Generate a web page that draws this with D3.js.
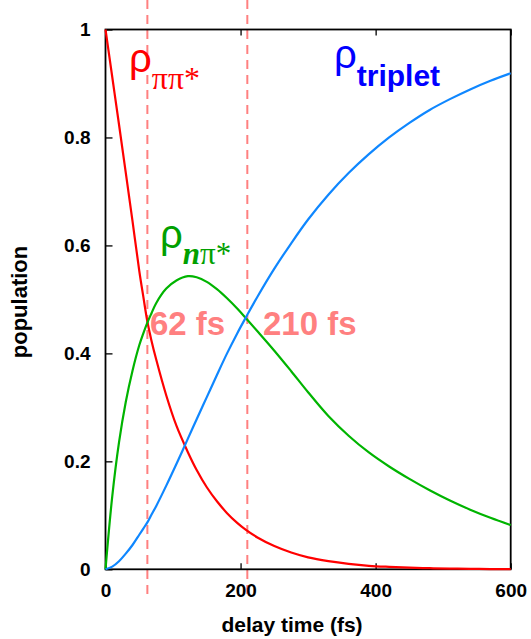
<!DOCTYPE html>
<html>
<head>
<meta charset="utf-8">
<script src="https://cdn.jsdelivr.net/npm/d3@7"></script>
<style>
  html, body { margin: 0; padding: 0; background: #fff; }
  svg { display: block; }
  text { font-family: "Liberation Sans", Arial, Helvetica, sans-serif; }
</style>
</head>
<body>
<script>
// ---- data ----
const times = [0, 10, 20, 30, 40, 50, 56, 62, 68, 75, 90, 105, 122, 135, 150, 165, 180, 195, 208, 225, 250, 275, 300, 330, 360, 390, 420, 450, 480, 510, 540, 570, 600];
const rhoPiPi = [1.000, 0.912, 0.824, 0.735, 0.645, 0.553, 0.505, 0.459, 0.424, 0.389, 0.322, 0.266, 0.217, 0.184, 0.152, 0.126, 0.104, 0.086, 0.073, 0.059, 0.043, 0.031, 0.022, 0.015, 0.010, 0.0065, 0.0045, 0.003, 0.002, 0.0013, 0.0008, 0.0005, 0.0003];
const rhoNPi = [0.000, 0.135, 0.235, 0.310, 0.368, 0.415, 0.437, 0.457, 0.474, 0.493, 0.520, 0.535, 0.543, 0.541, 0.5325, 0.519, 0.502, 0.483, 0.465, 0.441, 0.405, 0.367, 0.328, 0.284, 0.2475, 0.2165, 0.1905, 0.1675, 0.1465, 0.1275, 0.1105, 0.0955, 0.082];
const rhoTriplet = [0.000, 0.005, 0.015, 0.029, 0.045, 0.064, 0.0755, 0.087, 0.101, 0.117, 0.155, 0.195, 0.242, 0.278, 0.319, 0.360, 0.400, 0.437, 0.467, 0.505, 0.557, 0.604, 0.648, 0.694, 0.734, 0.769, 0.800, 0.827, 0.851, 0.871, 0.889, 0.905, 0.919];
const markers = [62, 210];
const markerLabels = ["62 fs", "210 fs"];
const xTicks = [0, 200, 400, 600];
const yTicks = [0, 0.2, 0.4, 0.6, 0.8, 1];

const W = 531, H = 639;
const svg = d3.select("body").append("svg").attr("width", W).attr("height", H);
svg.append("rect").attr("width", W).attr("height", H).attr("fill", "#fff");

const x = d3.scaleLinear().domain([0, 600]).range([105.5, 510.7]);
const y = d3.scaleLinear().domain([0, 1]).range([569.3, 29.5]);

// dashed marker lines
svg.selectAll("line.marker").data(markers).enter().append("line")
  .attr("class", "marker")
  .attr("x1", d => x(d)).attr("x2", d => x(d))
  .attr("y1", 0).attr("y2", 595)
  .attr("stroke", "#ff8080").attr("stroke-width", 2)
  .attr("stroke-dasharray", "9,6");

// frame
svg.append("rect")
  .attr("x", x(0)).attr("y", y(1))
  .attr("width", x(600) - x(0)).attr("height", y(0) - y(1))
  .attr("fill", "none").attr("stroke", "#000").attr("stroke-width", 1.8);

// axes
const fmt = d => (d === 0 || d === 1) ? String(d) : d3.format(".1f")(d);
const yAxis = svg.append("g").attr("transform", `translate(${x(0)},0)`)
  .call(d3.axisLeft(y).tickValues(yTicks).tickSize(-7).tickPadding(15).tickFormat(fmt));
const xAxis = svg.append("g").attr("transform", `translate(0,${y(0)})`)
  .call(d3.axisBottom(x).tickValues(xTicks).tickSize(-6).tickPadding(14).tickFormat(d3.format("d")));
const xTop = svg.append("g").attr("transform", `translate(0,${y(1)})`)
  .call(d3.axisTop(x).tickValues(xTicks).tickSize(-6).tickFormat(""));
[yAxis, xAxis, xTop].forEach(g => {
  g.select(".domain").remove();
  g.selectAll(".tick line").attr("stroke", "#000").attr("stroke-width", 1.3);
  g.selectAll("text").attr("fill", "#000").attr("font-size", 19).attr("font-weight", "bold")
    .attr("font-family", "'Liberation Sans', Arial, sans-serif");
});

// curves
const series = [
  {vals: rhoPiPi, color: "#ff0000"},
  {vals: rhoNPi, color: "#00b400"},
  {vals: rhoTriplet, color: "#0f87ff"}
];
const line = d3.line().x(d => x(d[0])).y(d => y(d[1])).curve(d3.curveCatmullRom.alpha(0.5));
series.forEach(s => {
  svg.append("path")
    .attr("d", line(times.map((t, i) => [t, s.vals[i]])))
    .attr("fill", "none").attr("stroke", s.color).attr("stroke-width", 2.2);
});

// marker labels
svg.selectAll("text.mlab").data(markers).enter().append("text")
  .attr("class", "mlab")
  .attr("x", (d, i) => i === 0 ? 150 : 263)
  .attr("y", 335)
  .attr("fill", "#ff8080").attr("font-size", 33).attr("font-weight", "bold")
  .text((d, i) => markerLabels[i]);

// curve labels
function rhoLabel(xp, yp, color, subParts, subDy) {
  const t = svg.append("text").attr("x", xp).attr("y", yp).attr("fill", color);
  t.append("tspan").attr("font-size", 40).attr("font-family", "'Liberation Sans', Arial, sans-serif").text("ρ");
  subParts.forEach((p, i) => {
    const ts = t.append("tspan").attr("font-size", p.size).attr("font-family", p.family)
      .attr("font-weight", p.weight || "normal").attr("font-style", p.style || "normal").text(p.text);
    if (i === 0) ts.attr("dy", subDy);
  });
}
rhoLabel(129, 72, "#ff0000", [{text: "ππ*", size: 32, family: "'Liberation Serif', 'Times New Roman', serif"}], 17);
rhoLabel(160, 248, "#00a000", [
  {text: "n", size: 31, family: "'Liberation Serif', serif", weight: "bold", style: "italic"},
  {text: "π*", size: 31, family: "'Liberation Serif', serif"}], 16);
rhoLabel(334, 68, "#0000ff", [{text: "triplet", size: 30, family: "'Liberation Sans', Arial, sans-serif", weight: "bold"}], 18);

// axis titles
svg.append("text").attr("x", 292).attr("y", 632).attr("text-anchor", "middle")
  .attr("font-size", 21).attr("font-weight", "bold").text("delay time (fs)");
svg.append("text").attr("transform", "translate(27,302) rotate(-90)").attr("text-anchor", "middle")
  .attr("font-size", 22).attr("font-weight", "bold").text("population");
</script>
</body>
</html>
